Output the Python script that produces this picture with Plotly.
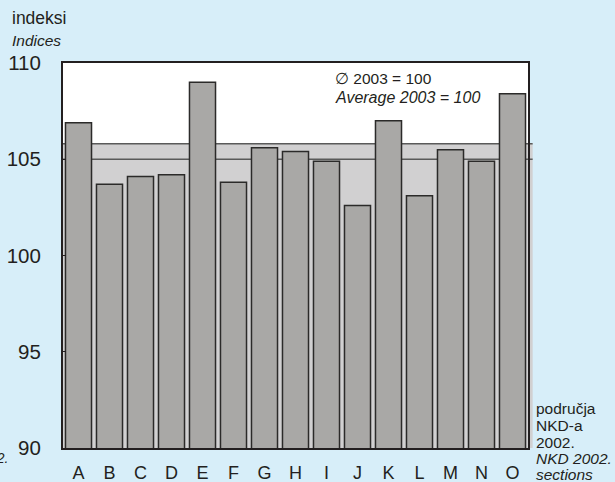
import plotly.graph_objects as go

sections = ["A", "B", "C", "D", "E", "F", "G", "H", "I", "J", "K", "L", "M", "N", "O"]
indices = [106.9, 103.7, 104.1, 104.2, 109.0, 103.8, 105.6, 105.4, 104.9, 102.6, 107.0, 103.1, 105.5, 104.9, 108.4]
band_top = 105.8
band_line = 105.0
y_ticks = [90, 95, 100, 105, 110]

FONT = "Liberation Sans, Arial, sans-serif"
BG = "#d7eef9"
DARK = "#231f20"

W, H = 615, 482
ML, MR, MT, MB = 63, 87, 63, 34

fig = go.Figure()
fig.add_trace(go.Bar(
    x=sections, y=indices, base=0,
    marker=dict(color="#a9a8a6", line=dict(color="#2b2a29", width=1.5)),
    width=0.84,
))

fig.add_shape(type="rect", xref="paper", yref="y", x0=0, x1=1.01, y0=90, y1=band_top,
              fillcolor="#d1d0d1", line=dict(width=0), layer="below")
for yv in (band_top, band_line):
    fig.add_shape(type="line", xref="paper", yref="y", x0=0, x1=1.01, y0=yv, y1=yv,
                  line=dict(color="#5a5a5a", width=1.5), layer="below")

fig.update_layout(
    width=W, height=H,
    margin=dict(l=ML, r=MR, t=MT, b=MB, autoexpand=False),
    paper_bgcolor=BG, plot_bgcolor="white",
    showlegend=False,
    font=dict(family=FONT, color=DARK),
)
fig.update_yaxes(
    range=[90, 110], tickvals=y_ticks, ticktext=[str(v) for v in y_ticks],
    ticks="inside", ticklen=3, tickcolor=DARK, tickwidth=1,
    showgrid=False, zeroline=False, automargin=False,
    showline=True, linecolor=DARK, linewidth=2, mirror=True,
    tickfont=dict(size=20.5, family=FONT, color=DARK),
    ticklabelstandoff=16,
)
fig.update_xaxes(
    showgrid=False, ticks="", showline=True, linecolor=DARK, linewidth=2, mirror=True,
    automargin=False,
    tickfont=dict(size=18, family=FONT, color=DARK),
    ticklabelstandoff=7,
)

anns = [
    dict(text="indeksi", x=10, y=18, size=17.5, italic=False, xanchor="left"),
    dict(text="Indices", x=10, y=40, size=15.5, italic=True, xanchor="left"),
    dict(text="\u2205 2003 = 100", x=333, y=78, size=15.5, italic=False, xanchor="left"),
    dict(text="Average 2003 = 100", x=333, y=97, size=16, italic=True, xanchor="left"),
    dict(text="područja", x=534, y=408, size=15.5, italic=False, xanchor="left"),
    dict(text="NKD-a", x=534, y=425, size=15.5, italic=False, xanchor="left"),
    dict(text="2002.", x=534, y=442, size=15.5, italic=False, xanchor="left"),
    dict(text="NKD 2002.", x=534, y=459, size=15.5, italic=True, xanchor="left"),
    dict(text="sections", x=534, y=475, size=15.5, italic=True, xanchor="left"),
    dict(text="NKD 2002.", x=10, y=458, size=14, italic=True, xanchor="right"),
]
for a in anns:
    txt = f"<i>{a['text']}</i>" if a["italic"] else a["text"]
    fig.add_annotation(
        text=txt, xref="paper", yref="paper",
        x=(a["x"] - ML) / (W - ML - MR),
        y=1 - (a["y"] - MT) / (H - MT - MB),
        xanchor=a["xanchor"], yanchor="middle", showarrow=False,
        font=dict(size=a["size"], family=FONT, color=DARK),
    )

fig.write_html("out.html", config={"displayModeBar": False},
               post_script="document.body.style.margin='0';")
